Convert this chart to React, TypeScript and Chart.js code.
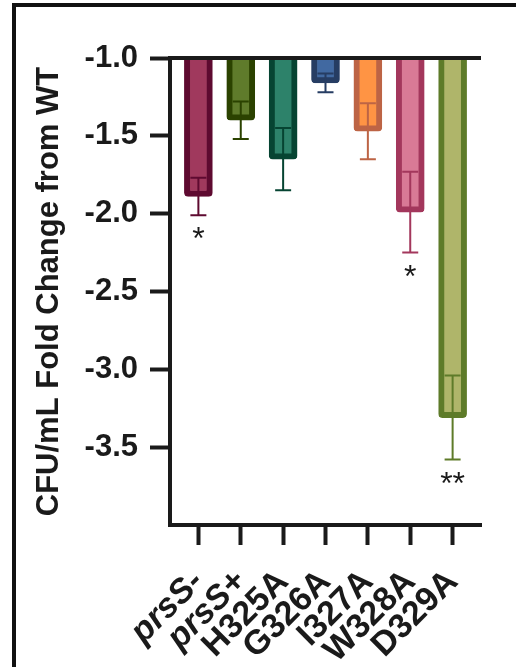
import React, { useEffect, useRef } from 'react';
import { Chart, registerables } from 'chart.js';

Chart.register(...registerables);

const categories = ['prsS-', 'prsS+', 'H325A', 'G326A', 'I327A', 'W328A', 'D329A'];
const italicLabels = [true, true, false, false, false, false, false];
const means = [-1.89, -1.40, -1.65, -1.16, -1.47, -1.99, -3.31];
const sds = [0.12, 0.12, 0.20, 0.06, 0.18, 0.26, 0.27];
const significance = ['*', '', '', '', '', '*', '**'];
const yTicks = [-1.0, -1.5, -2.0, -2.5, -3.0, -3.5];
const yMin = -4;
const yMax = -1;
const baseline = -1;
const yAxisTitle = 'CFU/mL Fold Change from WT';

const fillColors = ['#a0395d', '#5f7b2b', '#2d826a', '#4169a1', '#ff9444', '#d97a96', '#afb56a'];
const edgeColors = ['#5e0a30', '#2b4200', '#064432', '#263d63', '#bd6445', '#a3375c', '#5e7b29'];

const FONT = '"Liberation Sans", Arial, Helvetica, sans-serif';
const INK = '#1a1a1a';

const overlayPlugin = {
  id: 'overlay',
  beforeDraw(chart: any) {
    const ctx = chart.ctx;
    ctx.save();
    ctx.strokeStyle = '#111111';
    ctx.lineWidth = 4;
    ctx.strokeRect(14, 5, 800, 900);
    ctx.restore();
  },
  afterDatasetsDraw(chart: any) {
    const ctx = chart.ctx;
    const yScale = chart.scales.y;
    const meta = chart.getDatasetMeta(0);
    ctx.save();
    meta.data.forEach((bar: any, i: number) => {
      const x = bar.x;
      const lo = yScale.getPixelForValue(means[i] - sds[i]);
      const hi = yScale.getPixelForValue(means[i] + sds[i]);
      ctx.strokeStyle = edgeColors[i];
      ctx.lineWidth = 2;
      ctx.beginPath();
      ctx.moveTo(x, hi);
      ctx.lineTo(x, lo);
      ctx.moveTo(x - 8, hi);
      ctx.lineTo(x + 8, hi);
      ctx.moveTo(x - 8, lo);
      ctx.lineTo(x + 8, lo);
      ctx.stroke();
      if (significance[i]) {
        ctx.fillStyle = INK;
        ctx.font = `32px ${FONT}`;
        ctx.textAlign = 'center';
        ctx.textBaseline = 'alphabetic';
        ctx.fillText(significance[i], x, lo + 34);
      }
    });
    const py = yScale.getPixelForValue(baseline);
    ctx.strokeStyle = INK;
    ctx.lineWidth = 4;
    ctx.beginPath();
    ctx.moveTo(chart.chartArea.left - 2, py);
    ctx.lineTo(chart.chartArea.right, py);
    ctx.stroke();
    ctx.restore();
  },
};

export default function App() {
  const canvasRef = useRef<HTMLCanvasElement | null>(null);

  useEffect(() => {
    const canvas = canvasRef.current;
    if (!canvas) return;
    const chart = new Chart(canvas, {
      type: 'bar',
      data: {
        datasets: [
          {
            data: means.map((v, i) => ({ x: i, y: v })),
            base: baseline,
            backgroundColor: fillColors,
            borderColor: edgeColors,
            borderWidth: 6,
            borderRadius: 4,
            borderSkipped: 'start',
            barThickness: 28,
          } as any,
        ],
      },
      options: {
        animation: false,
        responsive: false,
        devicePixelRatio: 1,
        layout: { padding: { left: 0, top: 58, right: 35, bottom: 0 } },
        plugins: {
          legend: { display: false },
          tooltip: { enabled: false },
        },
        scales: {
          x: {
            type: 'linear',
            offset: false,
            min: -0.67,
            max: 6.67,
            afterBuildTicks: (s: any) => {
              s.ticks = categories.map((_, i) => ({ value: i }));
            },
            afterFit: (s: any) => {
              s.height = 142;
              s.paddingLeft = 0;
              s.paddingRight = 0;
            },
            grid: {
              offset: false,
              drawOnChartArea: false,
              drawTicks: true,
              tickLength: 20,
              tickWidth: 4,
              tickColor: INK,
            },
            border: { display: true, width: 4, color: INK },
            ticks: {
              autoSkip: false,
              minRotation: 45,
              maxRotation: 45,
              padding: 17,
              color: INK,
              font: (c: any) => ({
                family: FONT,
                size: 34,
                weight: 'bold',
                style: italicLabels[c.index] ? 'italic' : 'normal',
              }),
              callback: (v: any) => categories[Math.round(Number(v))] ?? '',
            },
          } as any,
          y: {
            type: 'linear',
            min: yMin,
            max: yMax,
            afterBuildTicks: (s: any) => {
              s.ticks = yTicks.map((v) => ({ value: v }));
            },
            afterFit: (s: any) => {
              s.width = 170;
              s.paddingTop = 0;
              s.paddingBottom = 0;
            },
            grid: {
              drawOnChartArea: false,
              drawTicks: true,
              tickLength: 20,
              tickWidth: 4,
              tickColor: INK,
            },
            border: { display: true, width: 4, color: INK },
            ticks: {
              padding: 12,
              color: INK,
              font: { family: FONT, size: 31, weight: 'bold' },
              callback: (v: any) => Number(v).toFixed(1),
            },
            title: {
              display: true,
              text: yAxisTitle,
              color: INK,
              font: { family: FONT, size: 31, weight: 'bold' },
              padding: { top: 31, bottom: 0 },
            },
          } as any,
        },
      },
      plugins: [overlayPlugin],
    });
    return () => chart.destroy();
  }, []);

  return (
    <div style={{ position: 'absolute', left: 0, top: 0, width: 516, height: 667, background: '#ffffff' }}>
      <canvas ref={canvasRef} width={516} height={667} style={{ display: 'block' }} />
    </div>
  );
}
